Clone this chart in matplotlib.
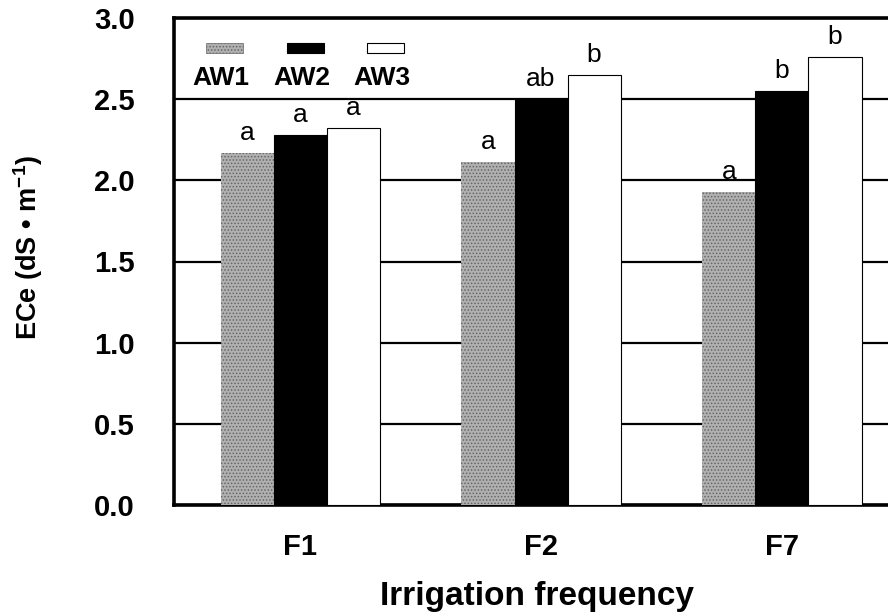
import matplotlib
matplotlib.use("Agg")
import matplotlib.pyplot as plt
from matplotlib.patches import Rectangle
import numpy as np

categories = ["F1", "F2", "F7"]
series_names = ["AW1", "AW2", "AW3"]
aw1 = [2.17, 2.11, 1.93]
aw2 = [2.28, 2.50, 2.55]
aw3 = [2.32, 2.65, 2.76]
letters_aw1 = ["a", "a", "a"]
letters_aw2 = ["a", "ab", "b"]
letters_aw3 = ["a", "b", "b"]
yticks = [0.0, 0.5, 1.0, 1.5, 2.0, 2.5, 3.0]

plt.rcParams['font.family'] = ['Liberation Sans', 'DejaVu Sans']
plt.rcParams['mathtext.fontset'] = 'custom'
plt.rcParams['mathtext.rm'] = 'Liberation Sans'
plt.rcParams['mathtext.bf'] = 'Liberation Sans:bold'
plt.rcParams['mathtext.default'] = 'regular'
plt.rcParams['hatch.color'] = '#666666'
plt.rcParams['hatch.linewidth'] = 0.7

fig = plt.figure(figsize=(8.88, 6.15), dpi=100)
ax = fig.add_axes([174/888, 110/615, 728/888, 487/615])

x = np.arange(len(categories))
w = 0.22
gray = '#b0b0b0'
colors = [gray, 'black', 'white']
data = [aw1, aw2, aw3]
letters = [letters_aw1, letters_aw2, letters_aw3]
for i, (vals, col, lab) in enumerate(zip(data, colors, letters)):
    pos = x + (i - 1) * w
    if i == 0:
        ax.bar(pos, vals, w, facecolor=gray, hatch='.....',
               edgecolor='#666666', linewidth=0, zorder=3)
    else:
        ax.bar(pos, vals, w, facecolor=col, edgecolor='black',
               linewidth=0.8, zorder=3)
    for px, v, t in zip(pos, vals, lab):
        ax.text(px, v + 0.05, t, ha='center', va='bottom', fontsize=19,
                zorder=4)

ax.set_xlim(-0.523, 2.498)
ax.set_ylim(0, 3.0)
ax.set_yticks(yticks)
ax.set_yticklabels([f"{t:.1f}" for t in yticks], fontsize=21, fontweight='bold')
ax.set_xticks(x)
ax.set_xticklabels(categories, fontsize=21, fontweight='bold')
ax.tick_params(axis='y', length=0, pad=28)
ax.tick_params(axis='x', length=0, pad=20)
ax.yaxis.grid(True, color='black', linewidth=1.6, zorder=0)
ax.set_axisbelow(True)
for s in ['left', 'bottom', 'top']:
    ax.spines[s].set_linewidth(2.6)
ax.spines['right'].set_visible(False)

fig.text(537/888, 1 - 605/615, "Irrigation frequency", ha='center',
         va='baseline', fontsize=24, fontweight='bold')
fig.text(28/888, 1 - 248/615, "ECe (dS \u2022 m$^{-1}$)", rotation=90,
         ha='center', va='center', fontsize=19.5, fontweight='bold')

# legend: boxes above labels
leg_x = [224, 305, 385]
for cx, name, col in zip(leg_x, series_names, colors):
    bx = (cx - 18.5 - 174) / 728
    by = (505 - 53) / 487
    kw = dict(transform=ax.transAxes, zorder=5, clip_on=False)
    if name == "AW1":
        r = Rectangle((bx, by), 37/728, 10/487, facecolor=gray,
                      hatch='.....', edgecolor='#666666', linewidth=0.5, **kw)
    else:
        r = Rectangle((bx, by), 37/728, 10/487, facecolor=col,
                      edgecolor='black', linewidth=0.8, **kw)
    ax.add_patch(r)
    ax.text((cx - 3 - 174) / 728, (505 - 85) / 487, name, transform=ax.transAxes,
            ha='center', va='baseline', fontsize=19, fontweight='bold', zorder=5)

fig.savefig("out.png", dpi=100)
